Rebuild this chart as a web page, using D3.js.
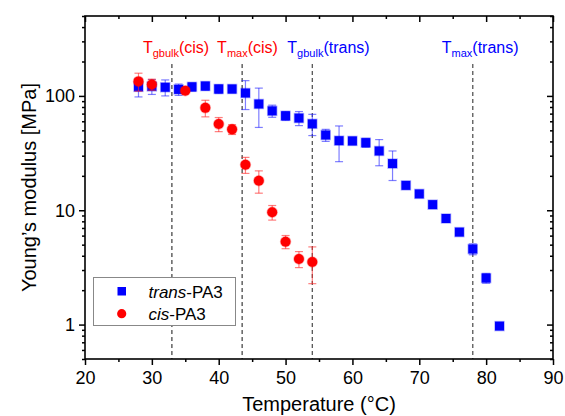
<!DOCTYPE html>
<html>
<head>
<meta charset="utf-8">
<script src="https://cdn.jsdelivr.net/npm/d3@7"></script>
<style>
  body { margin: 0; background: #fff; }
  svg { font-family: "Liberation Sans", Arial, sans-serif; }
</style>
</head>
<body>
<svg id="chart" width="565" height="416"></svg>
<script>
// trans-PA3 (blue squares)
var transTemp    = [28, 30, 32, 34, 36, 38, 40, 42, 44, 46, 48, 50, 52, 54, 56, 58, 60, 62, 64, 66, 68, 70, 72, 74, 76, 78, 80, 82];
var transModulus = [120, 121, 119, 114, 120, 122, 115, 115, 106, 85, 74, 67, 64, 57, 45.5, 40.6, 40.4, 39, 33, 25.6, 16.5, 13.9, 11.2, 8.47, 6.44, 4.58, 2.55, 0.97];
var transErr     = [22, 18, 19, 13, 10, 10, 10, 9, 30, 32, 9, 6, 9, 12, 5.5, 14, 3, 3.5, 8.5, 7.4, 0.5, 0.4, 0.3, 0.4, 0.2, 0.5, 0.25, 0.03];

// cis-PA3 (red circles)
var cisTemp    = [28, 30, 35, 38, 40, 42, 44, 46, 48, 50, 52, 54];
var cisModulus = [134, 126, 111, 78.6, 56.7, 51, 25, 18.1, 9.6, 5.31, 3.75, 3.53];
var cisErr     = [24, 14, 3, 13, 8, 5, 4, 4, 1.4, 0.7, 0.6, 1.25];

// transition temperatures
var markTemps  = [33, 43.5, 54, 78];
var markMain   = ['T', 'T', 'T', 'T'];
var markSub    = ['gbulk', 'max', 'gbulk', 'max'];
var markSuffix = ['(cis)', '(cis)', '(trans)', '(trans)'];

var xTicks = [20, 30, 40, 50, 60, 70, 80, 90];
var xMinor = [25, 35, 45, 55, 65, 75, 85];
var yTicks = [1, 10, 100];

var width = 565, height = 416;
var margin = {top: 16, right: 12, bottom: 57, left: 85};

var x = d3.scaleLinear().domain([20, 90]).range([margin.left, width - margin.right]);
var y = d3.scaleLog().domain([0.5, 500]).range([height - margin.bottom, margin.top]);

var svg = d3.select('#chart');

// dashed lines for the transitions
var markColor = ['#ff0000', '#ff0000', '#0000ff', '#0000ff'];
var lineColor = ['#111', '#111', '#555', '#555'];
var textShift = [-29, -25, -25, -31];

svg.selectAll('line.tline')
  .data(markTemps)
  .enter().append('line')
  .attr('class', 'tline')
  .attr('x1', function(d) { return x(d); })
  .attr('x2', function(d) { return x(d); })
  .attr('y1', y(190))
  .attr('y2', y(0.5))
  .attr('stroke', function(d, i) { return lineColor[i]; })
  .attr('stroke-width', function(d, i) { return i < 2 ? 1 : 1.3; })
  .attr('stroke-dasharray', '4,3');

var lbl = svg.selectAll('text.tlabel')
  .data(markTemps)
  .enter().append('text')
  .attr('class', 'tlabel')
  .attr('x', function(d, i) { return x(d) + textShift[i]; })
  .attr('y', margin.top + 37)
  .attr('fill', function(d, i) { return markColor[i]; })
  .style('font-size', '16px');
lbl.append('tspan').text(function(d, i) { return markMain[i]; });
lbl.append('tspan').attr('dy', 4).style('font-size', '11px').text(function(d, i) { return markSub[i]; });
lbl.append('tspan').attr('dy', -4).text(function(d, i) { return markSuffix[i]; });

// error bars + markers
function errorBars(temps, vals, errs, color) {
  var g = svg.append('g').attr('stroke', color).attr('stroke-width', 1.2).attr('fill', 'none');
  var bars = g.selectAll('g').data(temps).enter().append('g');
  bars.append('line')
    .attr('x1', function(d) { return x(d); })
    .attr('x2', function(d) { return x(d); })
    .attr('y1', function(d, i) { return y(vals[i] + errs[i]); })
    .attr('y2', function(d, i) { return y(Math.max(vals[i] - errs[i], 0.5)); });
  bars.append('line')
    .attr('x1', function(d) { return x(d) - 4; })
    .attr('x2', function(d) { return x(d) + 4; })
    .attr('y1', function(d, i) { return y(vals[i] + errs[i]); })
    .attr('y2', function(d, i) { return y(vals[i] + errs[i]); });
  bars.append('line')
    .attr('x1', function(d) { return x(d) - 4; })
    .attr('x2', function(d) { return x(d) + 4; })
    .attr('y1', function(d, i) { return y(Math.max(vals[i] - errs[i], 0.5)); })
    .attr('y2', function(d, i) { return y(Math.max(vals[i] - errs[i], 0.5)); });
}

errorBars(transTemp, transModulus, transErr, 'rgba(40,40,255,0.6)');
svg.append('g').selectAll('rect')
  .data(transTemp)
  .enter().append('rect')
  .attr('x', function(d) { return x(d) - 4.5; })
  .attr('y', function(d, i) { return y(transModulus[i]) - 4.5; })
  .attr('width', 9)
  .attr('height', 9)
  .attr('fill', '#0000ff')
  .attr('stroke', 'rgba(0,0,255,0.3)')
  .attr('stroke-width', 1.5);

errorBars(cisTemp, cisModulus, cisErr, 'rgba(255,40,40,0.6)');
svg.append('g').selectAll('circle')
  .data(cisTemp)
  .enter().append('circle')
  .attr('cx', function(d) { return x(d); })
  .attr('cy', function(d, i) { return y(cisModulus[i]); })
  .attr('r', 5)
  .attr('fill', '#ff0000')
  .attr('stroke', 'rgba(255,0,0,0.3)')
  .attr('stroke-width', 1.5);

// axes
var yMinor = y.ticks().filter(function(d) { return yTicks.indexOf(d) < 0; });
var bottom = height - margin.bottom, right = width - margin.right;

function styleAxis(g) {
  g.select('.domain').remove();
  g.selectAll('line').attr('stroke', '#000').attr('stroke-width', 1.5);
  g.selectAll('text').style('font-size', '18px').attr('fill', '#000');
}

svg.append('g').attr('transform', 'translate(0,' + bottom + ')')
  .call(d3.axisBottom(x).tickValues(xTicks).tickSize(6).tickPadding(6)).call(styleAxis);
svg.append('g').attr('transform', 'translate(0,' + bottom + ')')
  .call(d3.axisBottom(x).tickValues(xMinor).tickSize(3).tickFormat('')).call(styleAxis);
svg.append('g').attr('transform', 'translate(0,' + margin.top + ')')
  .call(d3.axisTop(x).tickValues(xTicks).tickSize(-6).tickFormat('')).call(styleAxis);
svg.append('g').attr('transform', 'translate(0,' + margin.top + ')')
  .call(d3.axisTop(x).tickValues(xMinor).tickSize(-3).tickFormat('')).call(styleAxis);

svg.append('g').attr('transform', 'translate(' + margin.left + ',0)')
  .call(d3.axisLeft(y).tickValues(yTicks).tickSize(6).tickPadding(4).tickFormat(d3.format('d'))).call(styleAxis);
svg.append('g').attr('transform', 'translate(' + margin.left + ',0)')
  .call(d3.axisLeft(y).tickValues(yMinor).tickSize(3).tickFormat('')).call(styleAxis);
svg.append('g').attr('transform', 'translate(' + right + ',0)')
  .call(d3.axisRight(y).tickValues(yTicks).tickSize(-6).tickFormat('')).call(styleAxis);
svg.append('g').attr('transform', 'translate(' + right + ',0)')
  .call(d3.axisRight(y).tickValues(yMinor).tickSize(-3).tickFormat('')).call(styleAxis);

svg.append('rect')
  .attr('x', margin.left)
  .attr('y', margin.top)
  .attr('width', right - margin.left)
  .attr('height', bottom - margin.top)
  .attr('fill', 'none')
  .attr('stroke', '#000')
  .attr('stroke-width', 1.6);

// axis titles
svg.append('text')
  .attr('x', (margin.left + right) / 2)
  .attr('y', height - 5)
  .attr('text-anchor', 'middle')
  .style('font-size', '20px')
  .text('Temperature (°C)');

svg.append('text')
  .attr('transform', 'translate(36,' + (margin.top + bottom) / 2 + ') rotate(-90)')
  .attr('text-anchor', 'middle')
  .style('font-size', '20px')
  .text('Young’s modulus [MPa]');

// legend
var legendNames = ['trans', 'cis'];
var legend = svg.append('g').attr('transform', 'translate(93.5,277.5)');
legend.append('rect')
  .attr('width', 142)
  .attr('height', 48)
  .attr('fill', '#fff')
  .attr('stroke', '#888')
  .attr('stroke-width', 1);
legend.append('rect')
  .attr('x', 24).attr('y', 9.5).attr('width', 8.5).attr('height', 8.5)
  .attr('fill', '#0000ff');
legend.append('circle')
  .attr('cx', 28.2).attr('cy', 36.2).attr('r', 4.6)
  .attr('fill', '#ff0000');
var lt = legend.selectAll('text.leg')
  .data(legendNames)
  .enter().append('text')
  .attr('class', 'leg')
  .attr('x', 55)
  .attr('y', function(d, i) { return 20 + i * 22.5; })
  .style('font-size', '17px');
lt.append('tspan').style('font-style', 'italic').text(function(d) { return d; });
lt.append('tspan').text('-PA3');
</script>
</body>
</html>
